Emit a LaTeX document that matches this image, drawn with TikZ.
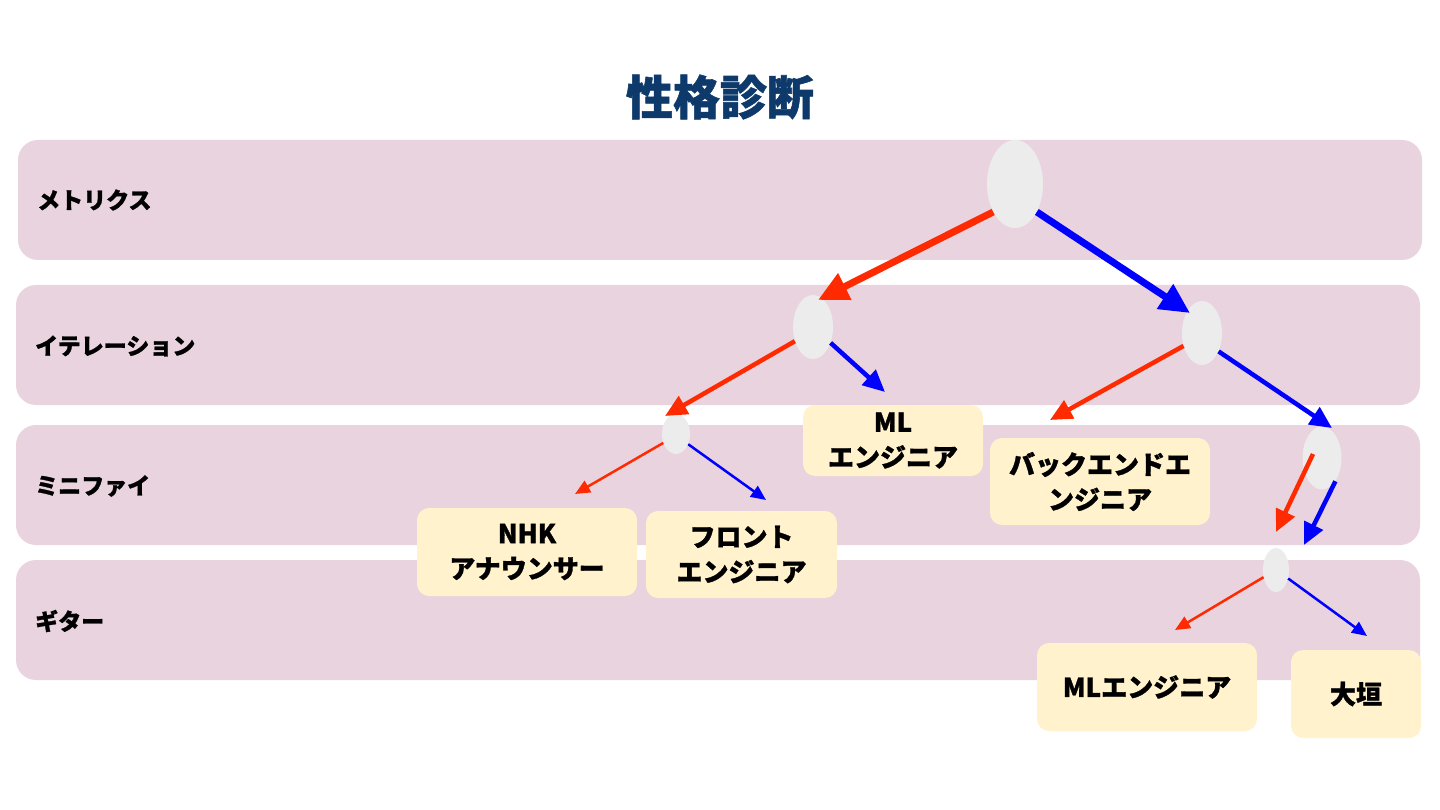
\documentclass[tikz,border=0pt]{standalone}
\usepackage{fontspec}
\setmainfont{Noto Sans CJK JP}[BoldFeatures={FakeBold=1.2}]
\usetikzlibrary{arrows.meta}
\definecolor{bandc}{HTML}{E9D3DE}
\definecolor{boxc}{HTML}{FFF2CC}
\definecolor{ellc}{HTML}{ECECEC}
\definecolor{titlec}{HTML}{0E3A6B}
\definecolor{redc}{HTML}{FF2A00}
\definecolor{bluec}{HTML}{0000FF}
\tikzset{
  band/.style={fill=bandc, rounded corners=20pt},
  lbl/.style={anchor=west, font=\fontsize{23}{27}\selectfont\bfseries, inner sep=0pt},
  box/.style={fill=boxc, rounded corners=12pt, align=center, inner sep=0pt,
    font=\fontsize{26}{35}\selectfont\bfseries},
  ell/.style={ellipse, fill=ellc, inner sep=0pt},
  thick1/.style={line width=7pt, -{Triangle[length=30pt,width=28pt]}},
  thick2/.style={line width=4.5pt, -{Triangle[length=22pt,width=20pt]}},
  thick3/.style={line width=2.5pt, -{Triangle[length=15pt,width=13pt]}},
}
\usetikzlibrary{shapes.geometric}
\begin{document}
\begin{tikzpicture}[x=1pt,y=-1pt]
\useasboundingbox (0,0) rectangle (1440,810);
% bands
\fill[band] (18,140) rectangle (1422,260);
\fill[band] (16,285) rectangle (1420,405);
\fill[band] (16,425) rectangle (1420,545);
\fill[band] (16,560) rectangle (1420,680);
% title
\node[font=\fontsize{47}{50}\selectfont\bfseries, text=titlec] (title) at (720,97) {性格診断};
% labels
\node[lbl] (l1) at (37,200) {メトリクス};
\node[lbl] (l2) at (35,346) {イテレーション};
\node[lbl] (l3) at (35,486) {ミニファイ};
\node[lbl] (l4) at (35,621) {ギター};
% ellipses
\node[ell, minimum width=56pt, minimum height=88pt] (e1) at (1015,184) {};
\node[ell, minimum width=40pt, minimum height=64pt] (e2) at (813,327) {};
\node[ell, minimum width=40pt, minimum height=64pt] (e3) at (1202,333) {};
\node[ell, minimum width=28pt, minimum height=40pt] (e4) at (676,434) {};
\node[ell, minimum width=39pt, minimum height=63pt] (e5) at (1322,458) {};
\node[ell, minimum width=26pt, minimum height=44pt] (e6) at (1276,570) {};
% boxes
\node[box, minimum width=180pt, minimum height=71pt] (b1) at (893,440.5) {ML\\エンジニア};
\node[box, minimum width=220pt, minimum height=87pt] (b2) at (1100,481.5) {バックエンドエ\\ンジニア};
\node[box, minimum width=220pt, minimum height=88pt] (b3) at (527,552) {NHK\\アナウンサー};
\node[box, minimum width=191pt, minimum height=87pt] (b4) at (741.5,554.5) {フロント\\エンジニア};
\node[box, minimum width=220pt, minimum height=88pt] (b5) at (1147,687) {MLエンジニア};
\node[box, minimum width=130pt, minimum height=88pt] (b6) at (1356,694) {大垣};
% arrow tips
\coordinate (t1) at (818,300);
\coordinate (t2) at (1190,313);
\coordinate (t3) at (665,416);
\coordinate (t4) at (885,392);
\coordinate (t5) at (1050,420);
\coordinate (t6) at (1332,428);
\coordinate (t7) at (1276,532);
\coordinate (t8) at (1304,545);
\coordinate (t9) at (575,494);
\coordinate (t10) at (766,500);
\coordinate (t11) at (1175,630);
\coordinate (t12) at (1367,636);
\coordinate (s7) at (1313,454);
% arrows
\draw[thick1, redc] (e1.232) -- (t1);
\draw[thick1, bluec] (e1.308) -- (t2);
\draw[thick2, redc] (e2.218) -- (t3);
\draw[thick2, bluec] (e2.318) -- (t4);
\draw[thick2, redc] (e3.215) -- (t5);
\draw[thick2, bluec] (e3.312) -- (t6);
\draw[thick2, redc] (s7) -- (t7);
\draw[thick2, bluec] (e5.300) -- (t8);
\draw[thick3, redc] (e4.215) -- (t9);
\draw[thick3, bluec] (e4.320) -- (t10);
\draw[thick3, redc] (e6.210) -- (t11);
\draw[thick3, bluec] (e6.325) -- (t12);
\end{tikzpicture}
\end{document}
